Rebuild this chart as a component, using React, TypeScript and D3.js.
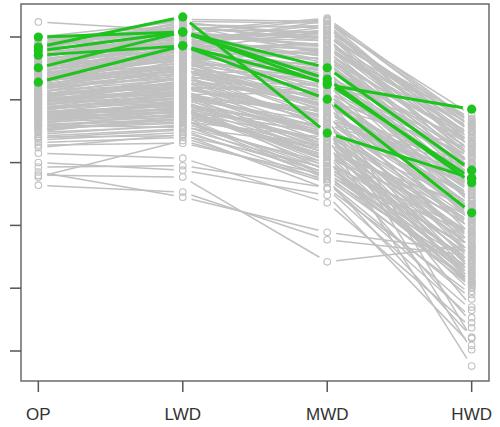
import React from "react";
import * as d3 from "d3";

const categories = ["OP", "LWD", "MWD", "HWD"];
const yTicks = [10, 20, 30, 40, 50, 60];

// gray series: [OP, LWD, MWD, HWD]
const grayLines: number[][] = [
  [62.4, 61.0, 63.0, 46.5], [60.0, 62.5, 62.2, 47.6], [59.6, 62.0, 61.5, 45.0], [59.2, 61.2, 60.8, 44.2],
  [58.8, 62.8, 62.5, 43.0], [58.5, 60.5, 60.0, 47.0], [58.2, 61.8, 59.3, 42.5], [57.9, 59.8, 61.0, 45.8],
  [57.6, 60.9, 58.6, 41.2], [57.3, 59.2, 57.9, 44.5], [57.0, 61.5, 59.8, 39.8], [56.8, 60.2, 56.8, 43.3],
  [56.5, 58.6, 58.2, 46.0], [56.2, 59.6, 55.9, 38.5], [56.0, 58.0, 57.3, 42.0], [55.7, 60.6, 56.2, 40.6],
  [55.5, 57.5, 54.8, 44.8], [55.2, 59.0, 57.0, 37.2], [55.0, 58.3, 53.9, 41.5], [54.8, 56.9, 55.5, 39.0],
  [54.5, 57.8, 52.8, 43.6], [54.3, 59.4, 54.3, 36.0], [54.0, 56.3, 53.2, 40.2], [53.8, 57.1, 51.9, 38.0],
  [53.6, 55.8, 54.9, 42.8], [53.3, 58.8, 50.8, 35.2], [53.1, 56.6, 52.3, 39.4], [52.9, 55.2, 51.4, 37.6],
  [52.7, 57.4, 53.6, 33.8], [52.5, 54.7, 50.2, 41.0], [52.3, 56.0, 49.6, 36.8], [52.1, 54.2, 51.0, 34.5],
  [51.9, 55.5, 48.8, 38.9], [51.7, 53.8, 50.5, 32.6], [51.5, 56.4, 47.9, 37.0], [51.3, 53.3, 49.2, 35.6],
  [51.1, 54.9, 48.3, 31.5], [50.9, 52.8, 46.8, 39.9], [50.7, 54.4, 50.0, 33.0], [50.5, 52.2, 47.4, 36.3],
  [50.3, 53.6, 45.9, 30.4], [50.1, 51.7, 48.0, 34.2], [49.9, 52.9, 46.2, 38.2], [49.7, 51.2, 44.8, 29.5],
  [49.5, 53.1, 47.0, 32.1], [49.3, 50.6, 45.3, 35.0], [49.1, 52.4, 43.9, 28.6], [48.9, 50.1, 46.5, 31.0],
  [48.7, 51.5, 44.1, 33.5], [48.5, 49.6, 42.8, 27.4], [48.3, 50.9, 45.5, 30.0], [48.1, 49.1, 43.4, 26.5],
  [47.9, 50.3, 41.9, 32.8], [47.7, 48.6, 44.5, 28.0], [47.5, 49.8, 42.2, 25.6], [47.3, 48.1, 40.8, 30.8],
  [47.1, 49.3, 43.0, 24.6], [46.9, 47.6, 41.2, 27.2], [46.7, 48.8, 39.8, 29.0], [46.5, 47.2, 42.0, 23.5],
  [46.2, 48.3, 40.3, 26.0], [46.0, 46.7, 38.9, 22.4], [45.7, 47.8, 41.6, 25.0], [45.4, 46.3, 39.5, 21.5],
  [45.1, 47.0, 38.2, 24.0], [44.8, 45.8, 40.0, 20.6], [44.5, 46.0, 37.6, 23.0], [44.2, 45.4, 39.0, 21.0],
  [43.9, 45.2, 37.0, 18.3], [43.6, 44.8, 38.4, 22.0], [43.2, 44.0, 36.8, 16.5], [42.8, 43.1, 38.0, 20.2],
  [42.4, 44.5, 35.8, 15.3], [41.5, 40.7, 33.6, 13.7], [39.3, 39.5, 36.0, 19.0], [38.5, 34.5, 28.9, 25.8],
  [37.7, 43.5, 37.3, 12.2], [36.4, 35.3, 27.7, 25.2], [38.0, 37.7, 24.2, 26.8], [40.0, 38.8, 34.8, 10.9],
  [53.0, 55.0, 47.0, 10.2], [50.0, 51.0, 44.0, 7.6], [55.8, 57.0, 50.5, 12.0], [48.0, 48.5, 40.5, 14.5],
  [51.0, 52.5, 45.0, 17.0], [59.8, 60.3, 58.8, 46.8], [58.0, 62.2, 60.4, 45.2], [57.4, 58.4, 56.4, 43.9],
  [56.6, 61.0, 57.6, 41.8], [55.3, 56.8, 58.0, 45.5], [54.6, 58.6, 55.0, 40.0], [53.9, 57.7, 56.5, 37.9],
  [53.2, 54.0, 49.0, 42.2], [52.4, 55.6, 53.0, 35.8], [51.6, 54.6, 52.0, 40.8], [50.8, 51.9, 51.5, 37.4],
  [50.2, 53.4, 49.4, 34.8], [49.4, 52.0, 46.5, 39.2], [48.6, 50.4, 48.6, 31.8], [47.8, 49.4, 45.0, 36.6],
  [47.0, 48.0, 43.5, 29.8], [46.4, 49.0, 41.5, 33.2], [45.6, 46.5, 44.0, 27.8], [44.9, 47.4, 42.5, 31.2],
  [44.0, 44.3, 39.2, 24.4], [59.0, 59.5, 62.0, 43.5], [58.6, 61.4, 61.8, 41.5], [56.9, 60.0, 60.5, 39.5],
  [55.9, 58.2, 59.0, 42.6], [54.9, 56.2, 57.8, 38.4], [53.4, 55.4, 56.0, 36.5], [52.6, 57.0, 54.6, 33.4],
  [51.4, 52.6, 52.5, 30.6], [50.4, 50.8, 51.2, 28.4], [49.6, 52.8, 49.8, 26.2], [48.2, 51.0, 47.5, 24.9],
  [47.4, 47.9, 46.0, 22.8], [46.6, 50.0, 44.6, 21.2], [45.9, 45.6, 42.6, 20.0], [45.2, 48.5, 41.0, 19.5],
  [58.3, 59.0, 62.6, 46.2], [57.7, 58.8, 61.2, 44.8], [57.2, 60.4, 62.8, 45.6], [56.4, 59.3, 60.2, 43.1],
  [55.6, 58.9, 61.6, 42.3], [59.4, 61.6, 59.6, 40.8], [58.9, 60.7, 58.4, 39.0], [57.5, 61.9, 57.2, 37.8],
  [56.3, 59.9, 55.2, 36.2], [55.4, 59.1, 54.0, 34.0], [54.7, 57.3, 53.4, 32.4], [54.1, 58.1, 51.6, 31.0],
  [53.7, 56.5, 50.6, 29.2], [52.8, 55.9, 49.0, 27.0], [52.2, 54.8, 47.6, 25.4], [51.8, 53.9, 46.4, 23.8],
  [51.2, 55.1, 45.2, 22.2], [50.6, 52.3, 44.2, 20.8], [50.0, 51.4, 43.2, 23.3], [49.2, 50.7, 42.4, 21.8],
  [48.8, 49.8, 41.4, 20.4], [48.4, 51.2, 40.2, 22.6], [47.6, 48.4, 39.4, 24.2], [47.2, 49.6, 38.6, 26.6],
  [46.8, 47.4, 37.8, 28.8], [46.1, 46.9, 37.4, 20.9], [58.1, 62.4, 59.9, 46.4], [57.0, 60.1, 59.4, 44.0],
  [56.1, 58.5, 58.6, 42.9], [55.1, 57.6, 56.6, 41.0], [54.2, 56.7, 55.6, 39.6], [53.5, 54.5, 54.2, 37.0],
  [52.0, 53.5, 53.8, 35.4], [51.0, 52.1, 50.8, 33.9], [49.8, 50.2, 48.2, 32.3], [49.0, 51.8, 47.2, 30.2],
  [48.0, 49.0, 45.8, 28.2], [47.2, 48.2, 44.8, 26.4], [53.0, 58.0, 61.0, 45.9], [54.4, 55.3, 48.6, 33.2],
];

// highlighted series: [OP, LWD, MWD, HWD]
const greenLines: number[][] = [
  [58.4, 63.2, 44.7, 37.5],
  [60.0, 60.8, 55.1, 38.8],
  [57.8, 60.8, 53.3, 36.8],
  [55.1, 60.8, 52.4, 48.5],
  [57.1, 58.6, 50.1, 32.0],
  [52.8, 58.6, 52.7, 37.5],
];

const W = 500;
const H = 427;
const plot = { left: 21, right: 489, top: 4, bottom: 381 };
const GRAY = "#c0c0c0";
const GREEN = "#1ec31e";
const GAP = 9;

export default function App() {
  const x = d3.scalePoint<string>().domain(categories).range([plot.left, plot.right]).padding(0.12);
  const y = d3.scaleLinear().domain([10, 60]).range([351, 37]);

  const segs = (vals: number[]) => {
    const out: string[] = [];
    for (let i = 0; i < vals.length - 1; i++) {
      const x1 = x(categories[i])!, y1 = y(vals[i]);
      const x2 = x(categories[i + 1])!, y2 = y(vals[i + 1]);
      const dx = x2 - x1, dy = y2 - y1;
      const len = Math.hypot(dx, dy);
      if (len <= 2 * GAP) continue;
      const ux = dx / len, uy = dy / len;
      out.push(
        d3.line()([
          [x1 + ux * GAP, y1 + uy * GAP],
          [x2 - ux * GAP, y2 - uy * GAP],
        ])!
      );
    }
    return out.join("");
  };

  return (
    <svg width={W} height={H} style={{ position: "absolute", left: 0, top: 0, background: "#fff" }}>
      <g>
        {grayLines.map((d, i) => (
          <path key={"gl" + i} d={segs(d)} stroke={GRAY} strokeWidth={1.5} fill="none" />
        ))}
        {grayLines.map((d, i) =>
          d.map((v, j) => (
            <circle key={"gp" + i + "_" + j} cx={x(categories[j])} cy={y(v)} r={3.3} fill="none" stroke={GRAY} strokeWidth={1.1} />
          ))
        )}
        {greenLines.map((d, i) => (
          <path key={"g" + i} d={segs(d)} stroke={GREEN} strokeWidth={3} fill="none" />
        ))}
        {greenLines.map((d, i) =>
          d.map((v, j) => <circle key={"gg" + i + "_" + j} cx={x(categories[j])} cy={y(v)} r={4.6} fill={GREEN} />)
        )}
      </g>
      <rect
        x={plot.left}
        y={plot.top}
        width={plot.right - plot.left}
        height={plot.bottom - plot.top}
        fill="none"
        stroke="#6a6a6a"
        strokeWidth={1.5}
      />
      {yTicks.map((t) => (
        <line key={"yt" + t} x1={10} x2={plot.left} y1={y(t)} y2={y(t)} stroke="#555" strokeWidth={1.5} />
      ))}
      {categories.map((c) => (
        <g key={"xt" + c}>
          <line x1={x(c)} x2={x(c)} y1={plot.bottom} y2={plot.bottom + 11} stroke="#555" strokeWidth={1.5} />
          <text
            x={x(c)}
            y={420}
            textAnchor="middle"
            fontFamily="Liberation Sans, Arial, sans-serif"
            fontSize={17}
            fill="#333"
          >
            {c}
          </text>
        </g>
      ))}
    </svg>
  );
}
